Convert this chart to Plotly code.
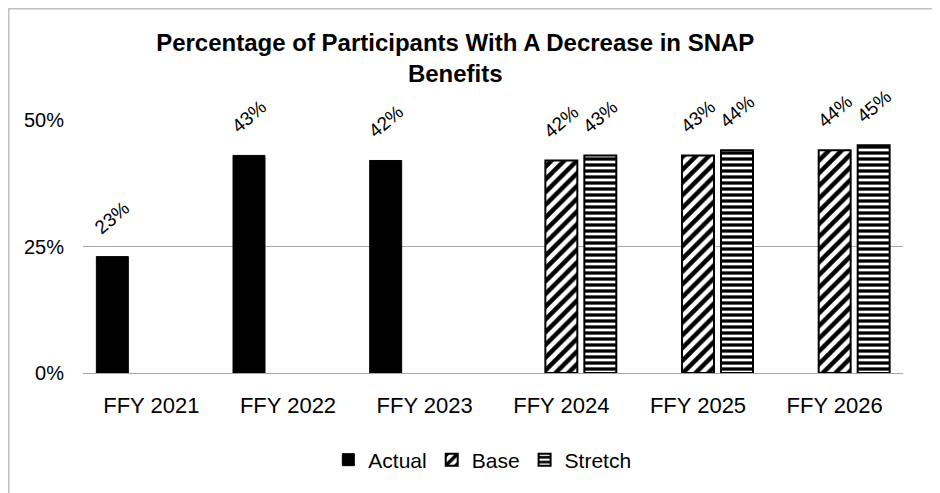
import plotly.graph_objects as go

categories = ["FFY 2021", "FFY 2022", "FFY 2023", "FFY 2024", "FFY 2025", "FFY 2026"]
actual = [0.23, 0.43, 0.42, None, None, None]
base = [None, None, None, 0.42, 0.43, 0.44]
stretch = [None, None, None, 0.43, 0.44, 0.45]
y_ticks = [0, 0.25, 0.5]
y_tick_labels = ["0%", "25%", "50%"]

FONT = "Liberation Sans, Arial, sans-serif"
W, H = 932, 485
L, R, T, B = 75, 37, 112, 120

fig = go.Figure()
fig.add_trace(go.Bar(x=categories, y=actual, name="Actual",
                     marker=dict(color="black", line=dict(color="black", width=1))))
fig.add_trace(go.Bar(x=categories, y=base, name="Base",
                     marker=dict(color="white", line=dict(color="black", width=2),
                                 pattern=dict(shape="/", fgcolor="black", bgcolor="white",
                                              fgopacity=1, size=9, solidity=0.5))))
fig.add_trace(go.Bar(x=categories, y=stretch, name="Stretch",
                     marker=dict(color="white", line=dict(color="black", width=2),
                                 pattern=dict(shape="-", fgcolor="black", bgcolor="white",
                                              fgopacity=1, size=6, solidity=0.55))))

# value labels, rotated, above each bar (slot offsets of the grouped bars)
plot_w = W - L - R
bargap = 0.144
slot = plot_w / len(categories) * (1 - bargap) / 3
for k, series in enumerate([actual, base, stretch]):
    for cat, v in zip(categories, series):
        if v is None:
            continue
        fig.add_annotation(x=cat, y=v, xref="x", yref="y", text=f"{round(v*100)}%",
                           showarrow=False, textangle=-40, xshift=(k - 1) * slot,
                           yshift=39, xanchor="center", yanchor="middle",
                           font=dict(size=19, color="black", family=FONT))

fig.update_layout(
    width=W, height=H,
    margin=dict(l=L, r=R, t=T, b=B),
    paper_bgcolor="white", plot_bgcolor="white",
    barmode="group", bargap=bargap, bargroupgap=0.18,
    font=dict(family=FONT, color="black", size=21),
    title=dict(text="<b>Percentage of Participants With A Decrease in SNAP<br>Benefits</b>",
               x=0.454, xref="paper", xanchor="center",
               y=1 - 43/H, yref="container", yanchor="middle",
               font=dict(size=24, family=FONT, color="black")),
    showlegend=True,
    legend=dict(orientation="h", x=0.487, xanchor="center", y=-0.344, yanchor="middle",
                font=dict(size=21, family=FONT), itemwidth=30, traceorder="normal"),
)
fig.update_xaxes(showgrid=False, showline=False, ticks="", tickfont=dict(size=22),
                 ticklabelstandoff=17)
fig.update_yaxes(range=[0, 0.5], tickvals=y_ticks, ticktext=y_tick_labels,
                 showgrid=True, gridcolor="#a6a6a6", gridwidth=1,
                 zeroline=True, zerolinecolor="#a6a6a6", zerolinewidth=1,
                 showline=False, ticks="", tickfont=dict(size=20), ticklabelstandoff=18)

fig.add_shape(type="rect", xref="paper", yref="paper",
              x0=(0.75 - L) / plot_w, x1=(W + 30 - L) / plot_w,
              y0=-(B + 30) / (H - T - B), y1=1 + (T - 0.75) / (H - T - B),
              line=dict(color="#bfbfbf", width=1.5), fillcolor="rgba(0,0,0,0)", layer="below")

fig.write_html("out.html")
